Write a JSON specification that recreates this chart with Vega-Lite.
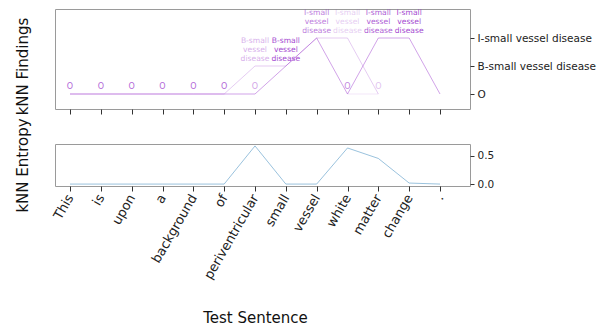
{
  "$schema": "https://vega.github.io/schema/vega-lite/v6.json",
  "padding": {"left": 14, "top": 8, "right": 5, "bottom": 5},
  "config": {
    "font": "DejaVu Sans",
    "view": {"stroke": "#9a9a9a", "strokeWidth": 1},
    "axis": {"grid": false, "domain": false, "tickColor": "#333", "labelColor": "#222", "titleColor": "#111", "titleFontWeight": "normal", "titleFont": "DejaVu Sans", "labelFont": "DejaVu Sans"}
  },
  "datasets": {
    "paths": [
      {"path": "p1", "token": "This", "label": "O", "p": 0.45},
      {"path": "p1", "token": "is", "label": "O", "p": 0.45},
      {"path": "p1", "token": "upon", "label": "O", "p": 0.45},
      {"path": "p1", "token": "a", "label": "O", "p": 0.45},
      {"path": "p1", "token": "background", "label": "O", "p": 0.45},
      {"path": "p1", "token": "of", "label": "O", "p": 0.45},
      {"path": "p1", "token": "periventricular", "label": "O", "p": 0.45},
      {"path": "p1", "token": "small", "label": "B-small vessel disease", "p": 0.45},
      {"path": "p1", "token": "vessel", "label": "I-small vessel disease", "p": 0.45},
      {"path": "p1", "token": "white", "label": "O", "p": 0.45},
      {"path": "p1", "token": "matter", "label": "I-small vessel disease", "p": 0.45},
      {"path": "p1", "token": "change", "label": "I-small vessel disease", "p": 0.45},
      {"path": "p1", "token": ".", "label": "O", "p": 0.45},
      {"path": "p2", "token": "This", "label": "O", "p": 0.25},
      {"path": "p2", "token": "is", "label": "O", "p": 0.25},
      {"path": "p2", "token": "upon", "label": "O", "p": 0.25},
      {"path": "p2", "token": "a", "label": "O", "p": 0.25},
      {"path": "p2", "token": "background", "label": "O", "p": 0.25},
      {"path": "p2", "token": "of", "label": "O", "p": 0.25},
      {"path": "p2", "token": "periventricular", "label": "B-small vessel disease", "p": 0.25},
      {"path": "p2", "token": "small", "label": "B-small vessel disease", "p": 0.25},
      {"path": "p2", "token": "vessel", "label": "I-small vessel disease", "p": 0.25},
      {"path": "p2", "token": "white", "label": "I-small vessel disease", "p": 0.25},
      {"path": "p2", "token": "matter", "label": "O", "p": 0.25},
      {"path": "p3", "token": "white", "label": "O", "p": 0.12},
      {"path": "p3", "token": "matter", "label": "O", "p": 0.12}
    ],
    "labels": [
      {"token": "This", "label": "O", "p": 0.75},
      {"token": "is", "label": "O", "p": 0.75},
      {"token": "upon", "label": "O", "p": 0.75},
      {"token": "a", "label": "O", "p": 0.75},
      {"token": "background", "label": "O", "p": 0.75},
      {"token": "of", "label": "O", "p": 0.75},
      {"token": "periventricular", "label": "O", "p": 0.45},
      {"token": "periventricular", "label": "B-small vessel disease", "p": 0.4},
      {"token": "small", "label": "B-small vessel disease", "p": 0.9},
      {"token": "vessel", "label": "I-small vessel disease", "p": 0.65},
      {"token": "white", "label": "I-small vessel disease", "p": 0.25},
      {"token": "white", "label": "O", "p": 0.6},
      {"token": "matter", "label": "I-small vessel disease", "p": 0.8},
      {"token": "matter", "label": "O", "p": 0.3},
      {"token": "change", "label": "I-small vessel disease", "p": 0.9}
    ],
    "entropy": [
      {"token": "This", "entropy": 0},
      {"token": "is", "entropy": 0},
      {"token": "upon", "entropy": 0},
      {"token": "a", "entropy": 0},
      {"token": "background", "entropy": 0},
      {"token": "of", "entropy": 0},
      {"token": "periventricular", "entropy": 0.673},
      {"token": "small", "entropy": 0},
      {"token": "vessel", "entropy": 0},
      {"token": "white", "entropy": 0.637},
      {"token": "matter", "entropy": 0.452},
      {"token": "change", "entropy": 0.018},
      {"token": ".", "entropy": 0}
    ]
  },
  "spacing": 1,
  "vconcat": [
    {
      "width": 415,
      "height": 100,
      "encoding": {
        "x": {"field": "token", "type": "nominal", "sort": null,
              "scale": {"type": "point", "padding": 0, "domain": ["This","is","upon","a","background","of","periventricular","small","vessel","white","matter","change","."], "range": [15, 385]},
              "axis": {"labels": false, "title": null, "tickSize": 5}}
      },
      "layer": [
        {
          "data": {"name": "paths"},
          "mark": {"type": "line", "color": "#9932cc", "strokeWidth": 1},
          "encoding": {
            "y": {"field": "label", "type": "nominal",
                  "scale": {"type": "point", "padding": 0, "domain": ["O","B-small vessel disease","I-small vessel disease"], "range": [85, 29]},
                  "axis": {"orient": "right", "title": null, "labelFontSize": 10.5, "tickSize": 4, "labelPadding": 3}},
            "detail": {"field": "path"},
            "opacity": {"field": "p", "type": "quantitative", "scale": {"domain": [0, 1], "range": [0, 1]}, "legend": null}
          }
        },
        {
          "data": {"name": "labels"},
          "transform": [{"filter": "datum.label == 'O'"}],
          "mark": {"type": "text", "color": "#9932cc", "fontSize": 8, "baseline": "bottom", "dy": -3},
          "encoding": {
            "y": {"field": "label", "type": "nominal",
                  "scale": {"type": "point", "padding": 0, "domain": ["O","B-small vessel disease","I-small vessel disease"], "range": [85, 29]},
                  "axis": {"orient": "left", "title": "kNN Findings", "labels": false, "ticks": false, "titleFontSize": 15, "titlePadding": 25}},
            "text": {"field": "label"},
            "opacity": {"field": "p", "type": "quantitative", "scale": {"domain": [0, 1], "range": [0, 1]}, "legend": null}
          }
        },
        {
          "data": {"name": "labels"},
          "transform": [{"filter": "datum.label != 'O'"}],
          "mark": {"type": "text", "color": "#9932cc", "fontSize": 7.6, "lineBreak": " ", "lineHeight": 9, "baseline": "bottom", "dy": -21},
          "encoding": {
            "y": {"field": "label", "type": "nominal",
                  "scale": {"type": "point", "padding": 0, "domain": ["O","B-small vessel disease","I-small vessel disease"], "range": [85, 29]},
                  "axis": null},
            "text": {"field": "label"},
            "opacity": {"field": "p", "type": "quantitative", "scale": {"domain": [0, 1], "range": [0, 1]}, "legend": null}
          }
        }
      ],
      "resolve": {"axis": {"y": "independent"}}
    },
    {
      "width": 415,
      "height": 42,
      "data": {"name": "entropy"},
      "encoding": {
        "x": {"field": "token", "type": "nominal", "sort": null,
              "scale": {"type": "point", "padding": 0, "domain": ["This","is","upon","a","background","of","periventricular","small","vessel","white","matter","change","."], "range": [15, 385]},
              "axis": {"title": "Test Sentence", "titleFontSize": 15, "titlePadding": 29, "labelAngle": -60, "labelAlign": "right", "labelBaseline": "middle", "labelFontSize": 13, "tickSize": 5, "labelPadding": 4}}
      },
      "layer": [
        {
          "mark": {"type": "line", "color": "#1f77b4", "opacity": 0.45, "strokeWidth": 1},
          "encoding": {
            "y": {"field": "entropy", "type": "quantitative",
                  "scale": {"domain": [-0.034, 0.707], "nice": false, "zero": false},
                  "axis": {"orient": "right", "title": null, "values": [0, 0.5], "format": ".1f", "labelFontSize": 10.5, "tickSize": 4, "labelPadding": 3}}
          }
        },
        {
          "mark": {"type": "line", "opacity": 0},
          "encoding": {
            "y": {"field": "entropy", "type": "quantitative",
                  "scale": {"domain": [-0.034, 0.707], "nice": false, "zero": false},
                  "axis": {"orient": "left", "title": "kNN Entropy", "labels": false, "ticks": false, "titleFontSize": 15, "titlePadding": 25}}
          }
        }
      ],
      "resolve": {"axis": {"y": "independent"}}
    }
  ]
}
